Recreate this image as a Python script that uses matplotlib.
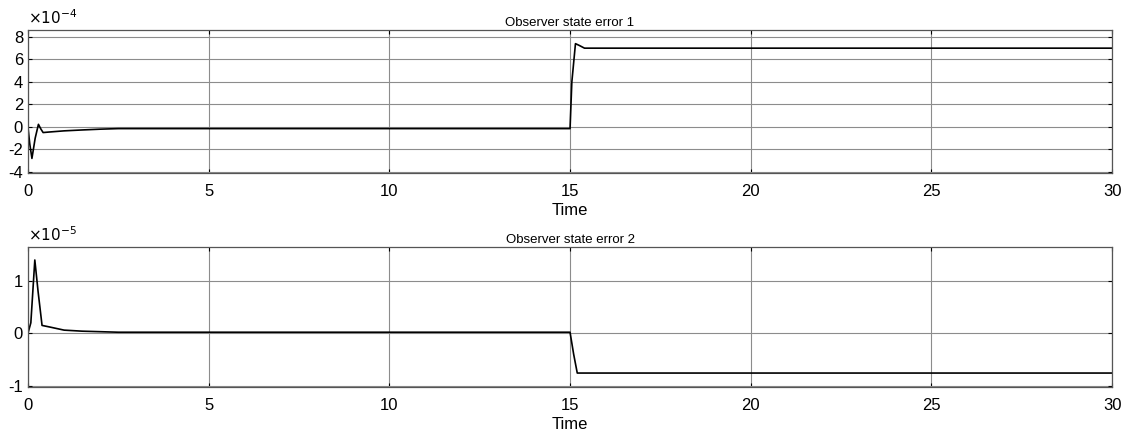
import matplotlib
matplotlib.use("Agg")
import matplotlib.pyplot as plt
from matplotlib.ticker import FuncFormatter

plt.rcParams['font.family'] = ['Liberation Sans', 'DejaVu Sans']
plt.rcParams['axes.unicode_minus'] = False

# observer state error 1 (units of 1e-4)
t1 = [0, 0.05, 0.11, 0.2, 0.29, 0.36, 0.42, 0.6, 1.0, 1.5, 2.0, 2.5, 15.0,
      15.05, 15.15, 15.25, 15.4, 30]
e1 = [0, -1.5, -2.8, -1.0, 0.23, -0.2, -0.5, -0.45, -0.35, -0.27, -0.2, -0.15, -0.15,
      4.0, 7.4, 7.25, 7.0, 7.0]

# observer state error 2 (units of 1e-5)
t2 = [0, 0.08, 0.19, 0.28, 0.39, 0.6, 1.0, 1.5, 2.5, 15.0, 15.1, 15.2, 30]
e2 = [0, 0.2, 1.4, 0.8, 0.15, 0.12, 0.06, 0.04, 0.02, 0.02, -0.4, -0.76, -0.76]

x_ticks = [0, 5, 10, 15, 20, 25, 30]
y_ticks1 = [-4, -2, 0, 2, 4, 6, 8]
y_ticks2 = [-1, 0, 1]

fig = plt.figure(figsize=(11.27, 4.37), dpi=100)
ax1 = fig.add_axes([0.0248, 0.604, 0.962, 0.327])
ax2 = fig.add_axes([0.0248, 0.114, 0.962, 0.321])


def style(ax, exponent, yticks, ylim, title):
    ax.set_xlim(0, 30)
    ax.set_ylim(*ylim)
    ax.set_xticks(x_ticks)
    ax.set_yticks(yticks)
    ax.yaxis.set_major_formatter(FuncFormatter(lambda v, p: '%d' % round(v)))
    ax.text(0.0, 1.02, r'$\times10^{\mathrm{-%d}}$' % exponent, transform=ax.transAxes,
            fontsize=11, ha='left', va='bottom')
    ax.grid(True, color='#8c8c8c', linewidth=0.8)
    ax.tick_params(direction='in', labelsize=12, length=3, top=True, right=True)
    ax.tick_params(axis='x', pad=8)
    ax.set_xlabel('Time', fontsize=12, labelpad=3)
    ax.set_title(title, fontsize=9.5, pad=3)
    for s in ax.spines.values():
        s.set_color('#555555')
        s.set_linewidth(0.9)


ax1.plot(t1, e1, color='black', linewidth=1.2)
style(ax1, 4, y_ticks1, (-4.1, 8.6), 'Observer state error 1')

ax2.plot(t2, e2, color='black', linewidth=1.2)
style(ax2, 5, y_ticks2, (-1.03, 1.65), 'Observer state error 2')

fig.savefig('out.png', dpi=100)
